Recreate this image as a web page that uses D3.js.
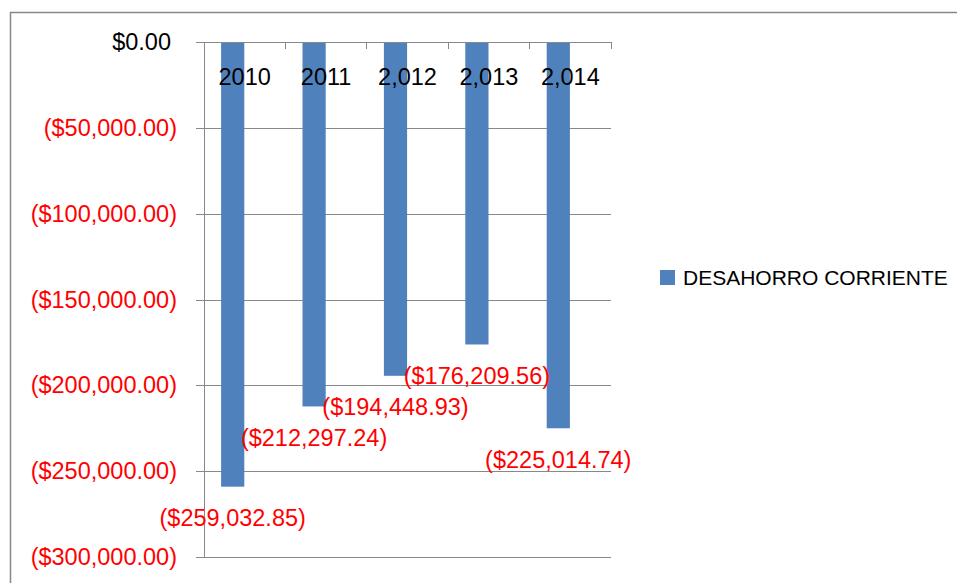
<!DOCTYPE html>
<html>
<head>
<meta charset="utf-8">
<script src="https://cdnjs.cloudflare.com/ajax/libs/d3/7.8.5/d3.min.js"></script>
<style>
  body { margin: 0; background: #fff; }
  text { font-family: "Liberation Sans", Arial, sans-serif; }
</style>
</head>
<body>
<svg width="957" height="583"></svg>
<script>
// chart data
var years = ["2010", "2011", "2,012", "2,013", "2,014"];
var values = [-259032.85, -212297.24, -194448.93, -176209.56, -225014.74];
var yTicks = [0, -50000, -100000, -150000, -200000, -250000, -300000];
var seriesName = "DESAHORRO CORRIENTE";

var svg = d3.select("svg");
// plot area (note: "top" is reserved on window, so use plotX/plotY names)
var plotL = 204, plotR = 611, plotT = 42, plotB = 557;
var numSize = "23.5px";

// outer chart border (cut off on right/bottom like the screenshot)
svg.append("rect")
    .attr("x", 10.5).attr("y", 12.5)
    .attr("width", 1000).attr("height", 1000)
    .attr("fill", "none")
    .attr("stroke", "#878787")
    .attr("stroke-width", 1.5);

var x = d3.scaleBand().domain(years).range([plotL, plotR]);
var y = d3.scaleLinear().domain([-300000, 0]).range([plotB, plotT]);

var money = d3.format("$,.2f");
function fmt(v) { return v < 0 ? "(" + money(-v) + ")" : money(v); }

// gridlines
svg.append("g")
    .attr("transform", "translate(" + plotL + ",0)")
    .call(d3.axisLeft(y).tickValues(yTicks).tickSize(-(plotR - plotL)).tickFormat(""))
    .call(function(g) { g.select(".domain").remove(); })
    .selectAll("line").attr("stroke", "#888").attr("shape-rendering", "crispEdges");

// y axis
var yAxis = svg.append("g")
    .attr("transform", "translate(" + plotL + ",0)")
    .call(d3.axisLeft(y).tickValues(yTicks).tickSize(8).tickPadding(19).tickFormat(fmt));
yAxis.select(".domain").attr("stroke", "#888").attr("shape-rendering", "crispEdges");
yAxis.selectAll("line").attr("stroke", "#888").attr("shape-rendering", "crispEdges");
yAxis.selectAll("text")
    .attr("font-size", numSize)
    .attr("font-family", "Liberation Sans, Arial, sans-serif")
    .attr("fill", function(d) { return d < 0 ? "#ff0000" : "#000"; })
    .attr("x", function(d) { return d < 0 ? -27 : -33; });

// bars
svg.append("g").selectAll("rect")
    .data(values)
    .enter().append("rect")
    .attr("x", function(d, i) { return x(years[i]) + x.bandwidth() * 0.21; })
    .attr("width", x.bandwidth() * 0.285)
    .attr("y", y(0))
    .attr("height", function(d) { return y(d) - y(0); })
    .attr("fill", "#4f81bd");

// x axis along zero line, ticks at category boundaries
var xAxis = svg.append("g").attr("transform", "translate(0," + y(0) + ")");
xAxis.append("line")
    .attr("x1", plotL - 8).attr("x2", plotR)
    .attr("stroke", "#888").attr("shape-rendering", "crispEdges");
xAxis.selectAll(".bound")
    .data(years.slice(1).concat(["end"]))
    .enter().append("line")
    .attr("x1", function(d) { return d === "end" ? plotR : x(d); })
    .attr("x2", function(d) { return d === "end" ? plotR : x(d); })
    .attr("y1", 0).attr("y2", 7)
    .attr("stroke", "#888").attr("shape-rendering", "crispEdges");
xAxis.selectAll(".cat")
    .data(years)
    .enter().append("text")
    .attr("x", function(d) { return x(d) + x.bandwidth() / 2; })
    .attr("y", 35)
    .attr("dy", "0.35em")
    .attr("text-anchor", "middle")
    .attr("font-size", numSize)
    .attr("fill", "#000")
    .text(function(d) { return d; });

// value labels
svg.append("g").selectAll("text")
    .data(values)
    .enter().append("text")
    .attr("x", function(d, i) { return x(years[i]) + x.bandwidth() * 0.21 + x.bandwidth() * 0.285 / 2; })
    .attr("y", function(d) { return y(d) + 31; })
    .attr("dy", "0.35em")
    .attr("text-anchor", "middle")
    .attr("font-size", numSize)
    .attr("fill", "#ff0000")
    .text(fmt);

// legend
var lg = svg.append("g").attr("transform", "translate(660,270)");
lg.append("rect").attr("width", 15).attr("height", 15).attr("fill", "#4f81bd");
lg.append("text")
    .attr("x", 23).attr("y", 7.5).attr("dy", "0.35em")
    .attr("font-size", "21px").attr("fill", "#000")
    .text(seriesName);
</script>
</body>
</html>
